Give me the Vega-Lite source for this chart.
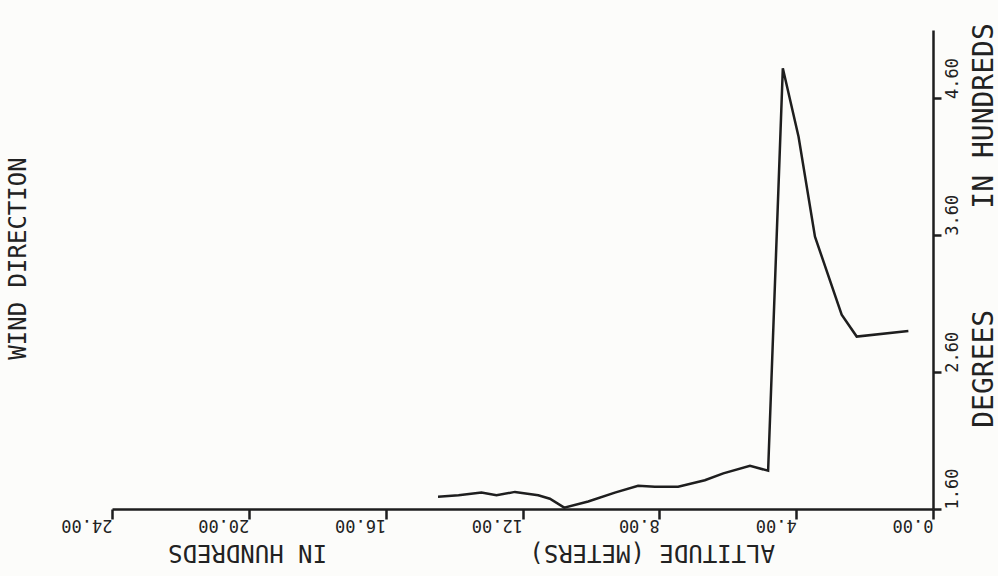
{
  "$schema": "https://vega.github.io/schema/vega-lite/v6.json",
  "autosize": {"type": "none"},
  "width": 821,
  "height": 479,
  "padding": {"left": 112, "top": 30, "right": 65, "bottom": 67},
  "background": "#fcfcfa",
  "title": {
    "text": "WIND DIRECTION",
    "orient": "left",
    "anchor": "middle",
    "frame": "group",
    "font": "DejaVu Sans Mono",
    "fontSize": 24,
    "fontWeight": "normal",
    "color": "#222222",
    "offset": 30,
    "dx": 11
  },
  "data": {
    "values": [
      {"altitude": 14.47, "direction": 1.69},
      {"altitude": 13.87, "direction": 1.70},
      {"altitude": 13.2, "direction": 1.72},
      {"altitude": 12.76, "direction": 1.70},
      {"altitude": 12.22, "direction": 1.725},
      {"altitude": 11.54, "direction": 1.70},
      {"altitude": 11.2, "direction": 1.675},
      {"altitude": 10.78, "direction": 1.61},
      {"altitude": 10.08, "direction": 1.655},
      {"altitude": 9.3, "direction": 1.72},
      {"altitude": 8.62, "direction": 1.77},
      {"altitude": 8.13, "direction": 1.763},
      {"altitude": 7.45, "direction": 1.763},
      {"altitude": 6.67, "direction": 1.81},
      {"altitude": 6.13, "direction": 1.86},
      {"altitude": 5.35, "direction": 1.915},
      {"altitude": 4.82, "direction": 1.88},
      {"altitude": 4.39, "direction": 4.82},
      {"altitude": 3.93, "direction": 4.32},
      {"altitude": 3.45, "direction": 3.59},
      {"altitude": 2.67, "direction": 3.02},
      {"altitude": 2.23, "direction": 2.86},
      {"altitude": 0.72, "direction": 2.90}
    ]
  },
  "mark": {"type": "line", "color": "#1e1e1e", "strokeWidth": 2.5, "clip": false},
  "encoding": {
    "x": {
      "field": "altitude",
      "type": "quantitative",
      "scale": {"domain": [0, 24], "reverse": true, "nice": false, "zero": false},
      "axis": {
        "orient": "bottom",
        "values": [0, 4, 8, 12, 16, 20, 24],
        "format": ".2f",
        "grid": false,
        "domainColor": "#1e1e1e",
        "domainWidth": 2.5,
        "tickColor": "#1e1e1e",
        "tickWidth": 2.5,
        "tickSize": 10,
        "labelAngle": 180,
        "labelAlign": "left",
        "labelBaseline": "alphabetic",
        "labelPadding": 0,
        "labelDx": 5,
        "labelDy": -4,
        "labelFont": "DejaVu Sans Mono",
        "labelFontSize": 17,
        "labelColor": "#222222",
        "labelFlush": false,
        "labelOverlap": false,
        "labelBound": false,
        "title": "ALTITUDE (METERS)\u00a0\u00a0\u00a0\u00a0\u00a0\u00a0\u00a0\u00a0\u00a0\u00a0\u00a0\u00a0\u00a0\u00a0IN HUNDREDS",
        "titleAngle": 180,
        "titleAlign": "center",
        "titleBaseline": "middle",
        "titleX": 359,
        "titleY": 42,
        "titleFont": "DejaVu Sans Mono",
        "titleFontSize": 24,
        "titleFontWeight": "normal",
        "titleColor": "#222222"
      }
    },
    "y": {
      "field": "direction",
      "type": "quantitative",
      "scale": {"domain": [1.6, 5.1], "nice": false, "zero": false},
      "axis": {
        "orient": "right",
        "values": [1.6, 2.6, 3.6, 4.6],
        "format": ".2f",
        "grid": false,
        "domainColor": "#1e1e1e",
        "domainWidth": 2.5,
        "tickColor": "#1e1e1e",
        "tickWidth": 2.5,
        "tickSize": 8,
        "labelAngle": 270,
        "labelAlign": "left",
        "labelBaseline": "top",
        "labelPadding": 3,
        "labelDy": -7,
        "labelFont": "DejaVu Sans Mono",
        "labelFontSize": 17,
        "labelColor": "#222222",
        "labelFlush": false,
        "labelOverlap": false,
        "labelBound": false,
        "title": "DEGREES\u00a0\u00a0\u00a0\u00a0\u00a0\u00a0IN HUNDREDS",
        "titleAngle": 270,
        "titleAlign": "center",
        "titleBaseline": "middle",
        "titleX": 51,
        "titleY": 195,
        "titleFont": "DejaVu Sans Mono",
        "titleFontSize": 28,
        "titleFontWeight": "normal",
        "titleColor": "#222222"
      }
    }
  },
  "config": {"view": {"stroke": null}}
}
